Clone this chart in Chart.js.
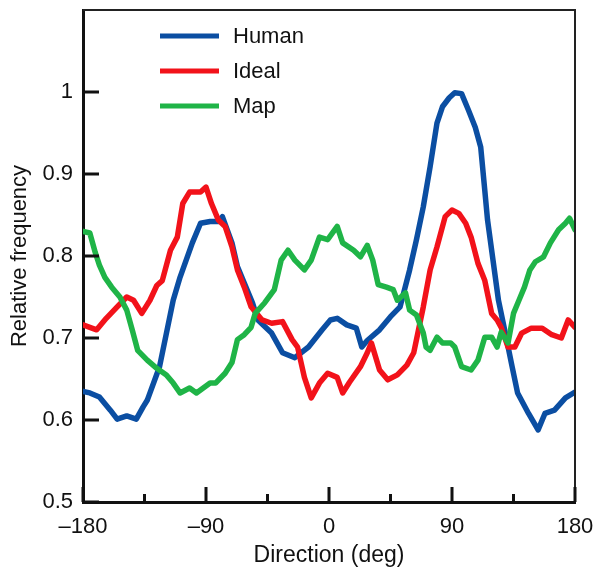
<!DOCTYPE html>
<html>
<head>
<meta charset="utf-8">
<script src="https://cdn.jsdelivr.net/npm/chart.js@4/dist/chart.umd.min.js"></script>
<style>
  html, body { margin: 0; padding: 0; background: #fff; }
  #wrap { width: 600px; height: 581px; position: relative; }
</style>
</head>
<body>
<div id="wrap"><canvas id="chart"></canvas></div>
<script>
// ── Data ──
const humanDeg = [-180, -175, -168, -160, -155, -148, -141, -136, -133, -124, -114, -109, -100, -94, -87, -81, -78, -71, -67, -62, -56, -52, -42, -34, -25, -15, -5, 1, 6, 13, 20, 24, 28, 37, 45, 52, 59, 64, 69, 74, 79, 83, 88, 92, 97, 102, 107, 111, 114, 116, 120, 124, 129, 134, 138, 146, 153, 158, 165, 173, 180];
const humanVal = [0.635, 0.633, 0.628, 0.612, 0.601, 0.605, 0.601, 0.616, 0.624, 0.665, 0.746, 0.774, 0.816, 0.840, 0.842, 0.842, 0.848, 0.816, 0.787, 0.767, 0.743, 0.722, 0.706, 0.682, 0.676, 0.689, 0.710, 0.722, 0.724, 0.716, 0.712, 0.689, 0.697, 0.710, 0.726, 0.738, 0.783, 0.820, 0.860, 0.909, 0.962, 0.982, 0.993, 0.999, 0.998, 0.978, 0.957, 0.933, 0.880, 0.844, 0.795, 0.746, 0.706, 0.665, 0.633, 0.608, 0.588, 0.608, 0.612, 0.627, 0.634];

const idealDeg = [-180, -175, -170, -163, -155, -148, -143, -137, -131, -126, -122, -116, -111, -107, -102, -94, -90, -86, -81, -76, -71, -67, -62, -57, -49, -42, -34, -27, -23, -18, -13, -7, -1, 6, 10, 15, 23, 28, 31, 37, 43, 50, 57, 62, 65, 69, 74, 79, 85, 90, 95, 100, 104, 109, 114, 119, 123, 126, 131, 136, 141, 148, 156, 163, 170, 175, 180];
const idealVal = [0.716, 0.713, 0.710, 0.724, 0.738, 0.750, 0.746, 0.730, 0.746, 0.764, 0.770, 0.807, 0.823, 0.864, 0.878, 0.878, 0.884, 0.864, 0.844, 0.836, 0.811, 0.783, 0.762, 0.738, 0.722, 0.718, 0.720, 0.698, 0.689, 0.652, 0.627, 0.645, 0.657, 0.652, 0.633, 0.646, 0.665, 0.682, 0.694, 0.661, 0.649, 0.655, 0.667, 0.682, 0.706, 0.738, 0.783, 0.811, 0.848, 0.856, 0.852, 0.840, 0.823, 0.791, 0.770, 0.730, 0.722, 0.713, 0.689, 0.689, 0.706, 0.712, 0.712, 0.704, 0.700, 0.722, 0.713];

const mapDeg = [-180, -175, -171, -168, -164, -159, -153, -148, -144, -140, -133, -126, -119, -114, -109, -102, -97, -87, -83, -76, -71, -67, -62, -57, -54, -47, -40, -35, -30, -25, -18, -13, -7, -1, 6, 10, 18, 23, 28, 32, 36, 42, 47, 50, 56, 59, 64, 69, 71, 74, 79, 83, 89, 92, 97, 104, 109, 114, 119, 123, 126, 131, 135, 139, 143, 147, 151, 157, 162, 168, 173, 176, 180];
const mapVal = [0.830, 0.828, 0.804, 0.789, 0.774, 0.762, 0.750, 0.734, 0.710, 0.685, 0.673, 0.663, 0.655, 0.645, 0.633, 0.639, 0.633, 0.645, 0.645, 0.657, 0.670, 0.698, 0.704, 0.713, 0.730, 0.743, 0.759, 0.795, 0.807, 0.795, 0.783, 0.795, 0.823, 0.820, 0.836, 0.816, 0.807, 0.799, 0.813, 0.795, 0.765, 0.762, 0.759, 0.746, 0.755, 0.734, 0.728, 0.706, 0.689, 0.685, 0.701, 0.694, 0.694, 0.689, 0.665, 0.661, 0.673, 0.701, 0.701, 0.689, 0.707, 0.694, 0.730, 0.746, 0.762, 0.783, 0.793, 0.799, 0.816, 0.832, 0.840, 0.846, 0.832];

const seriesNames = ['Human', 'Ideal', 'Map'];
const xMajorTicks = [-180, -90, 0, 90, 180];
const xMinorTicks = [-135, -45, 45, 135];
const yTicks = [0.5, 0.6, 0.7, 0.8, 0.9, 1];

// ── Style ──
const FONT = "'Liberation Sans', Arial, Helvetica, sans-serif";
const COLORS = { human: '#0b4ea2', ideal: '#f2121a', map: '#1fb447', ink: '#111111' };

function toPoints(xs, ys) {
  return xs.map((x, i) => ({ x: x, y: ys[i] }));
}

// inward tick marks + thin top/right frame
const frameTicks = {
  id: 'frameTicks',
  afterDatasetsDraw(chart) {
    const { ctx, chartArea: a, scales: { x, y } } = chart;
    ctx.save();
    ctx.strokeStyle = '#222';
    ctx.lineWidth = 2;
    ctx.beginPath();
    ctx.moveTo(a.left, a.top);
    ctx.lineTo(a.right, a.top);
    ctx.lineTo(a.right, a.bottom);
    ctx.stroke();

    ctx.strokeStyle = COLORS.ink;
    ctx.lineWidth = 3;
    ctx.beginPath();
    xMajorTicks.forEach(v => {
      const px = x.getPixelForValue(v);
      ctx.moveTo(px, a.bottom);
      ctx.lineTo(px, a.bottom - 15);
    });
    xMinorTicks.forEach(v => {
      const px = x.getPixelForValue(v);
      ctx.moveTo(px, a.bottom);
      ctx.lineTo(px, a.bottom - 8);
    });
    yTicks.forEach(v => {
      const py = y.getPixelForValue(v);
      ctx.moveTo(a.left, py);
      ctx.lineTo(a.left + 16, py);
    });
    ctx.stroke();
    ctx.restore();
  }
};

// legend drawn inside the plot, top-left
const insideLegend = {
  id: 'insideLegend',
  afterDraw(chart) {
    const ctx = chart.ctx;
    ctx.save();
    ctx.font = `22px ${FONT}`;
    ctx.textBaseline = 'middle';
    chart.data.datasets.forEach((ds, i) => {
      const yy = 36 + i * 35;
      ctx.strokeStyle = ds.borderColor;
      ctx.lineWidth = 5;
      ctx.beginPath();
      ctx.moveTo(160, yy);
      ctx.lineTo(219, yy);
      ctx.stroke();
      ctx.fillStyle = COLORS.ink;
      ctx.fillText(ds.label, 233, yy + 1);
    });
    ctx.restore();
  }
};

new Chart(document.getElementById('chart'), {
  type: 'line',
  data: {
    datasets: [
      { label: seriesNames[0], data: toPoints(humanDeg, humanVal), borderColor: COLORS.human, order: 3 },
      { label: seriesNames[1], data: toPoints(idealDeg, idealVal), borderColor: COLORS.ideal, order: 2 },
      { label: seriesNames[2], data: toPoints(mapDeg, mapVal), borderColor: COLORS.map, order: 1 }
    ]
  },
  options: {
    responsive: true,
    maintainAspectRatio: false,
    animation: false,
    layout: { padding: { top: 10, right: 25, left: 0, bottom: 0 } },
    elements: {
      line: { borderWidth: 5.5, tension: 0, borderJoinStyle: 'round', borderCapStyle: 'round', fill: false },
      point: { radius: 0 }
    },
    scales: {
      x: {
        type: 'linear',
        min: -180,
        max: 180,
        afterFit: s => { s.height = 79; s.paddingLeft = 0; s.paddingRight = 0; },
        afterBuildTicks: s => { s.ticks = xMajorTicks.map(v => ({ value: v })); },
        grid: { display: false, drawTicks: false },
        border: { display: true, color: COLORS.ink, width: 3 },
        ticks: {
          padding: 12,
          maxRotation: 0,
          color: COLORS.ink,
          font: { size: 22, family: FONT },
          callback: v => (v < 0 ? '\u2013' + Math.abs(v) : String(v))
        },
        title: {
          display: true,
          text: 'Direction (deg)',
          color: COLORS.ink,
          font: { size: 23, family: FONT },
          padding: { top: 0, bottom: 12 }
        }
      },
      y: {
        type: 'linear',
        min: 0.5,
        max: 1.1,
        afterFit: s => { s.width = 83; s.paddingTop = 0; s.paddingBottom = 0; },
        afterBuildTicks: s => { s.ticks = yTicks.map(v => ({ value: v })); },
        grid: { display: false, drawTicks: false },
        border: { display: true, color: COLORS.ink, width: 3 },
        ticks: {
          padding: 10,
          color: COLORS.ink,
          font: { size: 22, family: FONT },
          callback: v => (v === 1 ? '1' : v.toFixed(1))
        },
        title: {
          display: true,
          text: 'Relative frequency',
          color: COLORS.ink,
          font: { size: 22, family: FONT },
          padding: { top: 7, bottom: 0 }
        }
      }
    },
    plugins: {
      legend: { display: false },
      tooltip: { enabled: false }
    }
  },
  plugins: [frameTicks, insideLegend]
});
</script>
</body>
</html>
